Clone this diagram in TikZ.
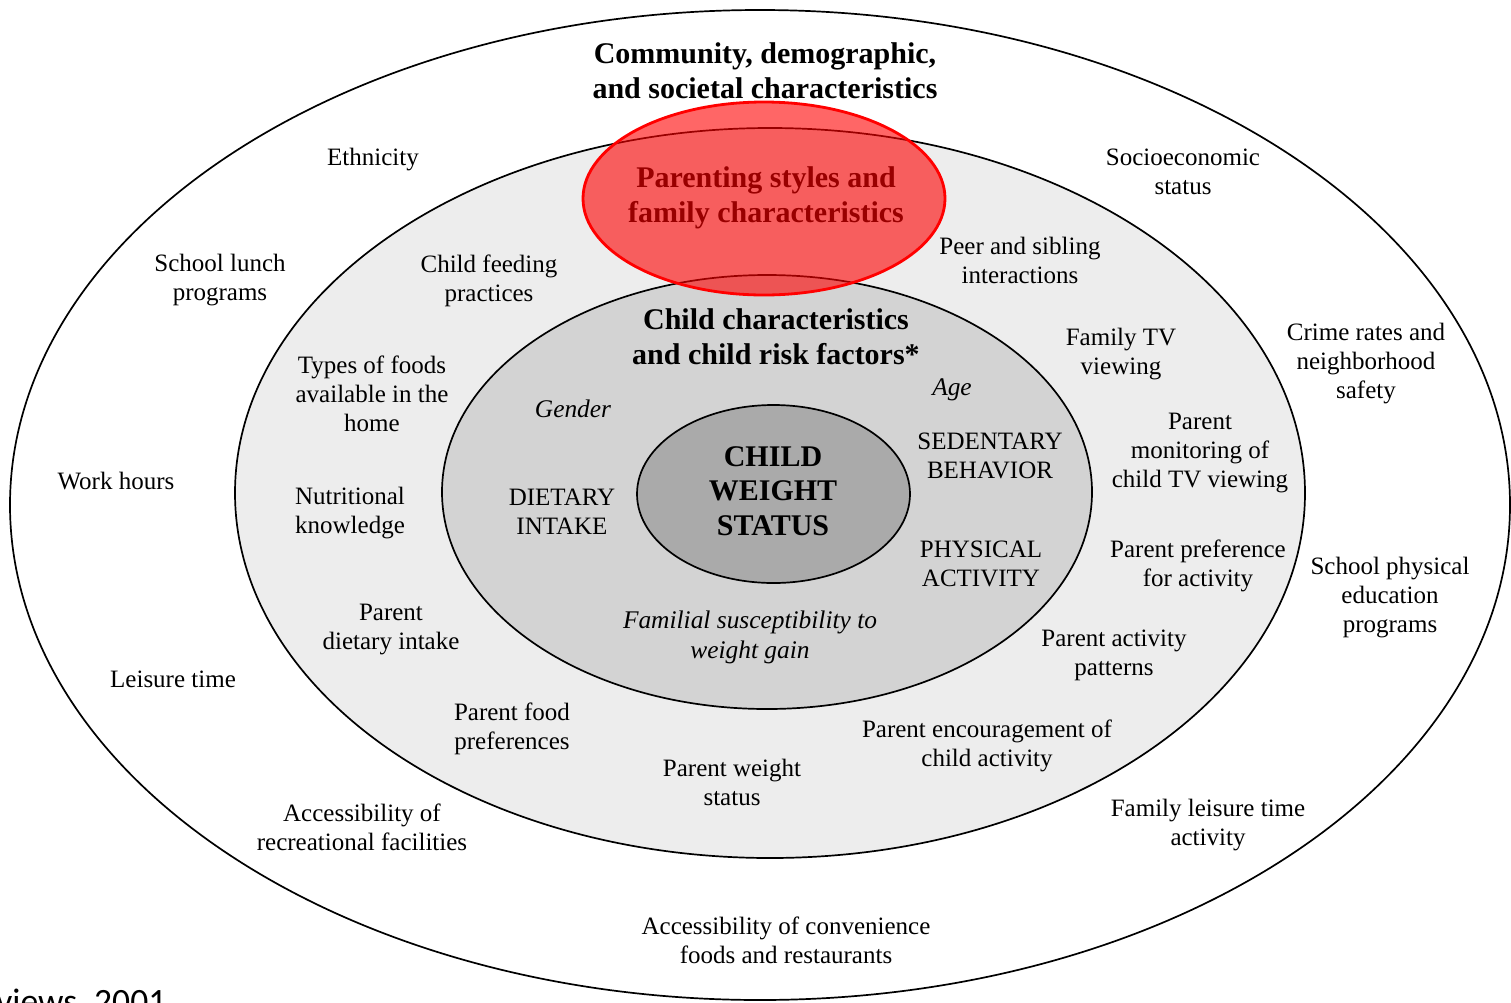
\documentclass[tikz,border=0pt]{standalone}
\usepackage{fontspec}
\setmainfont{Liberation Serif}
\newfontfamily\calib{Carlito}
\definecolor{ringA}{RGB}{237,237,237}
\definecolor{ringB}{RGB}{211,211,211}
\definecolor{ringC}{RGB}{170,170,170}
\begin{document}
\begin{tikzpicture}[x=0.5pt,y=-0.5pt,
  ring/.style={draw=black, line width=0.85pt},
  lbl/.style={align=center, inner sep=0pt, yshift=-1.2pt, font=\fontsize{12.5}{14.5}\selectfont},
  ital/.style={align=center, inner sep=0pt, yshift=-1pt, font=\fontsize{12.7}{15}\selectfont\itshape},
  ttl/.style={align=center, inner sep=0pt, font=\fontsize{15}{17.5}\selectfont\bfseries},
  caps/.style={align=center, inner sep=0pt, yshift=-0.5pt, font=\fontsize{12.5}{14.5}\selectfont},
  core/.style={align=center, inner sep=0pt, font=\fontsize{15}{17.3}\selectfont\bfseries}
]
\useasboundingbox (0,0) rectangle (1511,1002);
\clip (0,0) rectangle (1511,1002);
\fill[white] (0,0) rectangle (1511,1002);

% rings
\draw[ring, fill=white] (760,505) ellipse [x radius=375pt, y radius=247.5pt];
\draw[ring, fill=ringA] (770,493) ellipse [x radius=267.5pt, y radius=182.5pt];
\draw[ring, fill=ringB] (767,492) ellipse [x radius=162.5pt, y radius=108.5pt];
\draw[ring, fill=ringC] (773.5,494) ellipse [x radius=68.25pt, y radius=44.5pt];

% outer ring labels
\node[ttl] (community) at (765,71) {Community, demographic,\\and societal characteristics};
\node[lbl] (ethnicity) at (373,157) {Ethnicity};
\node[lbl] (ses) at (1183,169) {Socioeconomic\\status};
\node[lbl] (lunch) at (220,278) {School lunch\\programs};
\node[lbl] (crime) at (1366,361) {Crime rates and\\neighborhood\\safety};
\node[lbl] (work) at (116,479) {Work hours};
\node[lbl] (pe) at (1390,595) {School physical\\education\\programs};
\node[lbl] (leisure) at (173,677) {Leisure time};
\node[lbl] (recfac) at (362,825) {Accessibility of\\recreational facilities};
\node[lbl] (famleis) at (1208,823) {Family leisure time\\activity};
\node[lbl] (conv) at (786,938) {Accessibility of convenience\\foods and restaurants};

% family ring labels
\node[ttl] (parenting) at (766,198) {Parenting styles and\\family characteristics};
\node[lbl] (feeding) at (489,278) {Child feeding\\practices};
\node[lbl] (peer) at (1020,258) {Peer and sibling\\interactions};
\node[lbl] (famtv) at (1121,352) {Family TV\\viewing};
\node[lbl] (types) at (372,391) {Types of foods\\available in the\\home};
\node[lbl] (monitor) at (1200,451) {Parent\\monitoring of\\child TV viewing};
\node[lbl] (nutri) at (350,511) {Nutritional\\knowledge};
\node[lbl] (prefact) at (1198,563) {Parent preference\\for activity};
\node[lbl] (pdiet) at (391,627) {Parent\\dietary intake};
\node[lbl] (pactpat) at (1114,653) {Parent activity\\patterns};
\node[lbl] (pfood) at (512,726) {Parent food\\preferences};
\node[lbl] (encour) at (987,743) {Parent encouragement of\\child activity};
\node[lbl] (pweight) at (732,780) {Parent weight\\status};

% child ring labels
\node[ttl] (child) at (776,337) {Child characteristics\\and child risk factors*};
\node[ital] (gender) at (573,407) {Gender};
\node[ital] (age) at (952,388) {Age};
\node[caps] (sed) at (990,455) {SEDENTARY\\BEHAVIOR};
\node[caps] (diet) at (562,511) {DIETARY\\INTAKE};
\node[caps] (phys) at (981,563) {PHYSICAL\\ACTIVITY};
\node[ital] (famsus) at (750,635) {Familial susceptibility to\\weight gain};

% core
\node[core] (weight) at (773,491) {CHILD\\WEIGHT\\STATUS};

% highlight
\fill[red, fill opacity=0.6] (764,198.5) ellipse [x radius=90.5pt, y radius=48.25pt];
\draw[red, line width=1.4pt] (764,198.5) ellipse [x radius=90.5pt, y radius=48.25pt];

% source fragment (cut off at the bottom edge, as in the reference)
\node[anchor=base west, inner sep=0pt, font=\calib\fontsize{17.8}{20}\selectfont] (src) at (-4,1013) {views, 2001};
\end{tikzpicture}
\end{document}
